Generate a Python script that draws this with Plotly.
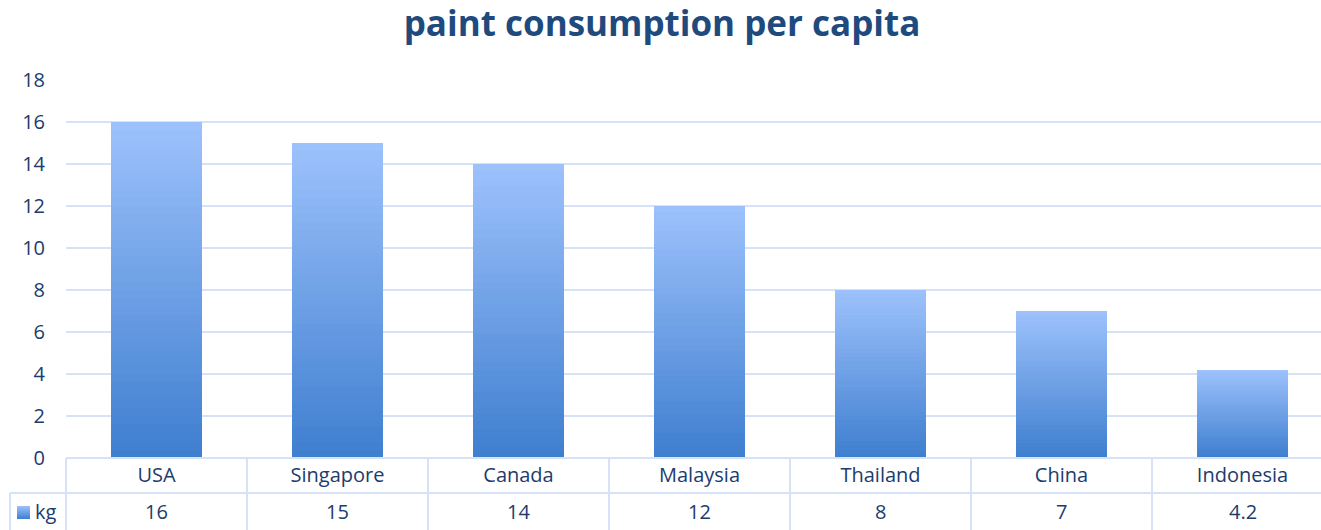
import plotly.graph_objects as go
import numpy as np

categories = ["USA", "Singapore", "Canada", "Malaysia", "Thailand", "China", "Indonesia"]
values = [16, 15, 14, 12, 8, 7, 4.2]
value_labels = ["16", "15", "14", "12", "8", "7", "4.2"]
series_name = "kg"
title_text = "paint consumption per capita"

W, H = 1321, 530
ML, MR, MT, MB = 66, 0, 80, 72
PW, PH = W - ML - MR, H - MT - MB
CAT_PX = 181.0

FONT = "Open Sans"
FS = 20
TXT = "#203C6C"
GRID = "#D6E2F5"
TOP = np.array([157, 194, 252])
BOT = np.array([62, 126, 207])
N = 40

def grad(t):
    c = BOT + (TOP - BOT) * t
    return "rgb(%d,%d,%d)" % tuple(c.round().astype(int))

fig = go.Figure()
vals = np.array(values, dtype=float)
for i in range(N):
    t = (i + 0.5) / N
    fig.add_trace(go.Bar(
        x=categories, y=vals / N, width=0.5,
        marker=dict(color=grad(t), line=dict(width=0)),
        showlegend=False, hoverinfo="skip",
    ))

def px_to_py(y):
    return (H - MB - y) / PH

def px_to_px(x):
    return (x - ML) / PW

shapes = []
line = dict(color=GRID, width=2)
shapes.append(dict(type="line", xref="paper", yref="paper", x0=0, x1=1, y0=0, y1=0, line=line))
shapes.append(dict(type="line", xref="paper", yref="paper", x0=px_to_px(10), x1=1,
                   y0=px_to_py(493), y1=px_to_py(493), line=line))
shapes.append(dict(type="line", xref="paper", yref="paper", x0=0, x1=0,
                   y0=0, y1=px_to_py(530), line=line))
shapes.append(dict(type="line", xref="paper", yref="paper", x0=px_to_px(10), x1=px_to_px(10),
                   y0=px_to_py(493), y1=px_to_py(530), line=line))
for k in range(1, len(categories)):
    shapes.append(dict(type="line", xref="x", yref="paper", x0=k - 0.5, x1=k - 0.5,
                       y0=0, y1=px_to_py(530), line=line))
nk = 13
for j in range(nk):
    t = 1 - (j + 0.5) / nk
    y0 = 506 + j
    shapes.append(dict(type="rect", xref="paper", yref="paper",
                       x0=px_to_px(17), x1=px_to_px(30),
                       y0=px_to_py(y0), y1=px_to_py(y0 + 1),
                       fillcolor=grad(t), line=dict(width=0)))

annotations = []
for c, lab in zip(categories, value_labels):
    annotations.append(dict(x=c, xref="x", y=px_to_py(511), yref="paper", text=lab,
                            showarrow=False, font=dict(size=FS, color=TXT, family=FONT),
                            xanchor="center", yanchor="middle"))
annotations.append(dict(x=px_to_px(33), xref="paper", y=px_to_py(511), yref="paper", text=series_name,
                        showarrow=False, font=dict(size=FS, color=TXT, family=FONT),
                        xanchor="left", yanchor="middle"))

fig.update_layout(
    width=W, height=H,
    margin=dict(l=ML, r=MR, t=MT, b=MB, pad=0),
    barmode="stack", bargap=0.5,
    plot_bgcolor="white", paper_bgcolor="white",
    title=dict(text="<b>%s</b>" % title_text, x=662 / W, xanchor="center", xref="container",
               y=1 - 24 / H, yanchor="middle",
               font=dict(size=35, color="#1F4A7E", family=FONT)),
    font=dict(family=FONT, size=FS, color=TXT),
    xaxis=dict(range=[-0.5, -0.5 + PW / CAT_PX], showgrid=False, zeroline=False,
               showline=False, ticks="", tickfont=dict(size=FS, color=TXT, family=FONT),
               ticklabelstandoff=3),
    yaxis=dict(range=[0, 18], dtick=2, showgrid=True, gridcolor=GRID, gridwidth=2,
               zeroline=False, showline=False, ticks="", tickfont=dict(size=FS, color=TXT, family=FONT),
               ticklabelstandoff=20),
    shapes=shapes, annotations=annotations,
)

fig.write_html("out.html")
